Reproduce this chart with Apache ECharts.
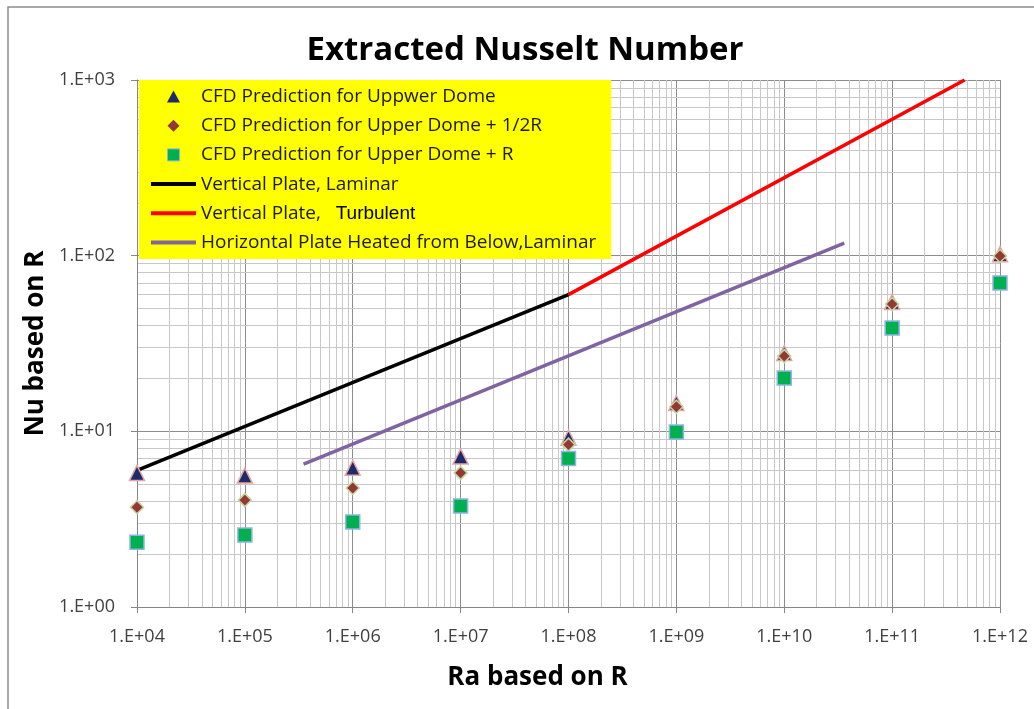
<!DOCTYPE html>
<html>
<head>
<meta charset="utf-8">
<script src="https://cdn.jsdelivr.net/npm/echarts@6/dist/echarts.min.js"></script>
<style>
  html, body { margin: 0; padding: 0; background: #fff; }
  #chart { width: 1034px; height: 709px; }
</style>
</head>
<body>
<div id="chart"></div>
<script>
// Rayleigh numbers at which the CFD cases were run
const raValues = [1e4, 1e5, 1e6, 1e7, 1e8, 1e9, 1e10, 1e11, 1e12];
// Extracted Nusselt numbers for the three wall segments
const nuUpperDome = [5.8, 5.6, 6.2, 7.2, 9.2, 14.5, 27.9, 54.5, 102];
const nuUpperDomeHalfR = [3.7, 4.06, 4.76, 5.8, 8.4, 13.8, 26.8, 53, 99.5];
const nuUpperDomeR = [2.34, 2.57, 3.05, 3.76, 7.0, 9.9, 20.1, 38.7, 70];

// Correlation end points
const laminarRa = [1e4, 1e8];
const laminarNu = [6, 60];
const turbulentRa = [1e8, 4.7e11];
const turbulentNu = [60, 1000];
const horizontalRa = [3.5e5, 3.6e10];
const horizontalNu = [6.5, 118];

// Decades shown on each axis
const xDecades = [4, 5, 6, 7, 8, 9, 10, 11, 12];
const yDecades = [0, 1, 2, 3];
const minorSteps = [2, 3, 4, 5, 6, 7, 8, 9];

const seriesNames = [
  'CFD Prediction for Uppwer Dome',
  'CFD Prediction for Upper Dome + 1/2R',
  'CFD Prediction for Upper Dome + R',
  'Vertical Plate, Laminar',
  'Vertical Plate,   Turbulent',
  'Horizontal Plate Heated from Below,Laminar'
];

// legend glyphs (paths keep their own aspect ratio inside the 45px slot)
const lineIcon = 'path://M0,0 L45,0 L45,4 L0,4 Z';
const triangleIcon = 'path://M6,0 L12,11 L0,11 Z';
const diamondIcon = 'path://M5.5,0 L11,5.5 L5.5,11 L0,5.5 Z';
const squareIcon = 'path://M0,0 L11,0 L11,11 L0,11 Z';
const legendItems = [
  { name: seriesNames[0], icon: triangleIcon, itemStyle: { borderWidth: 0 } },
  { name: seriesNames[1], icon: diamondIcon, itemStyle: { borderWidth: 0 } },
  { name: seriesNames[2], icon: squareIcon, itemStyle: { borderColor: '#8eb4e3', borderWidth: 1 } },
  { name: seriesNames[3], icon: lineIcon },
  { name: seriesNames[4], icon: lineIcon },
  { name: seriesNames[5], icon: lineIcon }
];

function pairs(xs, ys) { return xs.map((x, i) => [x, ys[i]]); }

function sciLabel(v) {
  const e = Math.round(Math.log10(v));
  return '1.E+' + (e < 10 ? '0' + e : String(e));
}

// minor grid lines at 2..9 within every decade
const minorLines = [];
xDecades.slice(0, -1).forEach(d => minorSteps.forEach(m => minorLines.push({ xAxis: m * Math.pow(10, d) })));
yDecades.slice(0, -1).forEach(d => minorSteps.forEach(m => minorLines.push({ yAxis: m * Math.pow(10, d) })));

const labelFont = '"Open Sans", "Noto Sans", sans-serif';

const chart = echarts.init(document.getElementById('chart'), null, { renderer: 'canvas' });

chart.setOption({
  backgroundColor: '#ffffff',
  animation: false,
  title: {
    text: 'Extracted Nusselt Number',
    left: 520,
    top: 29,
    textAlign: 'center',
    textStyle: { fontFamily: labelFont, fontWeight: 'bold', fontSize: 33, color: '#000' }
  },
  graphic: [{
    type: 'rect',
    shape: { x: 8, y: 7, width: 1200, height: 900 },
    style: { fill: 'none', stroke: '#8c8c8c', lineWidth: 1.5 },
    silent: true
  }],
  grid: { left: 137, right: 34, top: 80, bottom: 102, containLabel: false },
  legend: {
    data: legendItems,
    orient: 'vertical',
    left: 139,
    top: 80,
    padding: [7, 15, 7, 12],
    itemGap: 10.2,
    itemWidth: 45,
    itemHeight: 12,
    symbolKeepAspect: true,
    backgroundColor: '#ffff00',
    selectedMode: false,
    textStyle: {
      fontFamily: labelFont, fontSize: 19, color: '#1a1a00',
      rich: {
        b: { fontFamily: '"Liberation Sans", Arial, sans-serif', fontSize: 19, color: '#000', verticalAlign: 'bottom' }
      }
    },
    formatter: function (name) {
      if (name === seriesNames[4]) return 'Vertical Plate,   {b|Turbulent}';
      return name;
    }
  },
  xAxis: {
    type: 'log',
    min: 1e4, max: 1e12,
    splitNumber: 8,
    name: 'Ra based on R',
    nameLocation: 'middle',
    nameGap: 58,
    nameTextStyle: { fontFamily: labelFont, fontWeight: 'bold', fontSize: 26, color: '#000', padding: [0, 62, 0, 0] },
    axisLine: { lineStyle: { color: '#868686', width: 1 } },
    axisTick: { show: true, length: 6, lineStyle: { color: '#868686' } },
    axisLabel: { formatter: sciLabel, margin: 21, interval: 0, fontFamily: labelFont, fontSize: 18, color: '#404040' },
    splitLine: { show: true, lineStyle: { color: '#8c8c8c', width: 1 } }
  },
  yAxis: {
    type: 'log',
    min: 1, max: 1000,
    splitNumber: 3,
    name: 'Nu based on R',
    nameLocation: 'middle',
    nameGap: 88,
    nameTextStyle: { fontFamily: labelFont, fontWeight: 'bold', fontSize: 26, color: '#000' },
    axisLine: { show: true, lineStyle: { color: '#868686', width: 1 } },
    axisTick: { show: true, length: 6, lineStyle: { color: '#868686' } },
    axisLabel: { formatter: sciLabel, margin: 22, fontFamily: labelFont, fontSize: 18, color: '#404040' },
    splitLine: { show: true, lineStyle: { color: '#8c8c8c', width: 1 } }
  },
  series: [
    {
      name: 'minor grid',
      type: 'line',
      data: [],
      silent: true,
      markLine: {
        silent: true,
        z: 0,
        symbol: 'none',
        label: { show: false },
        animation: false,
        lineStyle: { color: '#c8c8c8', width: 1, type: 'solid' },
        emphasis: { disabled: true },
        data: minorLines
      }
    },
    {
      name: seriesNames[3],
      type: 'line',
      data: pairs(laminarRa, laminarNu),
      symbol: 'none',
      z: 3,
      lineStyle: { color: '#000000', width: 3.5 },
      itemStyle: { color: '#000000' }
    },
    {
      name: seriesNames[4],
      type: 'line',
      data: pairs(turbulentRa, turbulentNu),
      symbol: 'none',
      z: 3,
      lineStyle: { color: '#ff0000', width: 3.5 },
      itemStyle: { color: '#ff0000' }
    },
    {
      name: seriesNames[5],
      type: 'line',
      data: pairs(horizontalRa, horizontalNu),
      symbol: 'none',
      z: 3,
      lineStyle: { color: '#8064a2', width: 3.5 },
      itemStyle: { color: '#8064a2' }
    },
    {
      name: seriesNames[0],
      type: 'scatter',
      data: pairs(raValues, nuUpperDome),
      symbol: 'triangle',
      symbolSize: 15,
      z: 4,
      itemStyle: { color: '#1f2a6b', borderColor: '#e6a5a3', borderWidth: 1.5, opacity: 1 }
    },
    {
      name: seriesNames[1],
      type: 'scatter',
      data: pairs(raValues, nuUpperDomeHalfR),
      symbol: 'diamond',
      symbolSize: 13,
      z: 5,
      itemStyle: { color: '#953735', borderColor: '#c3d69b', borderWidth: 1.5, opacity: 1 }
    },
    {
      name: seriesNames[2],
      type: 'scatter',
      data: pairs(raValues, nuUpperDomeR),
      symbol: 'rect',
      symbolSize: 14,
      z: 6,
      itemStyle: { color: '#00b050', borderColor: '#8eb4e3', borderWidth: 1.5, opacity: 1 }
    }
  ]
});
</script>
</body>
</html>
